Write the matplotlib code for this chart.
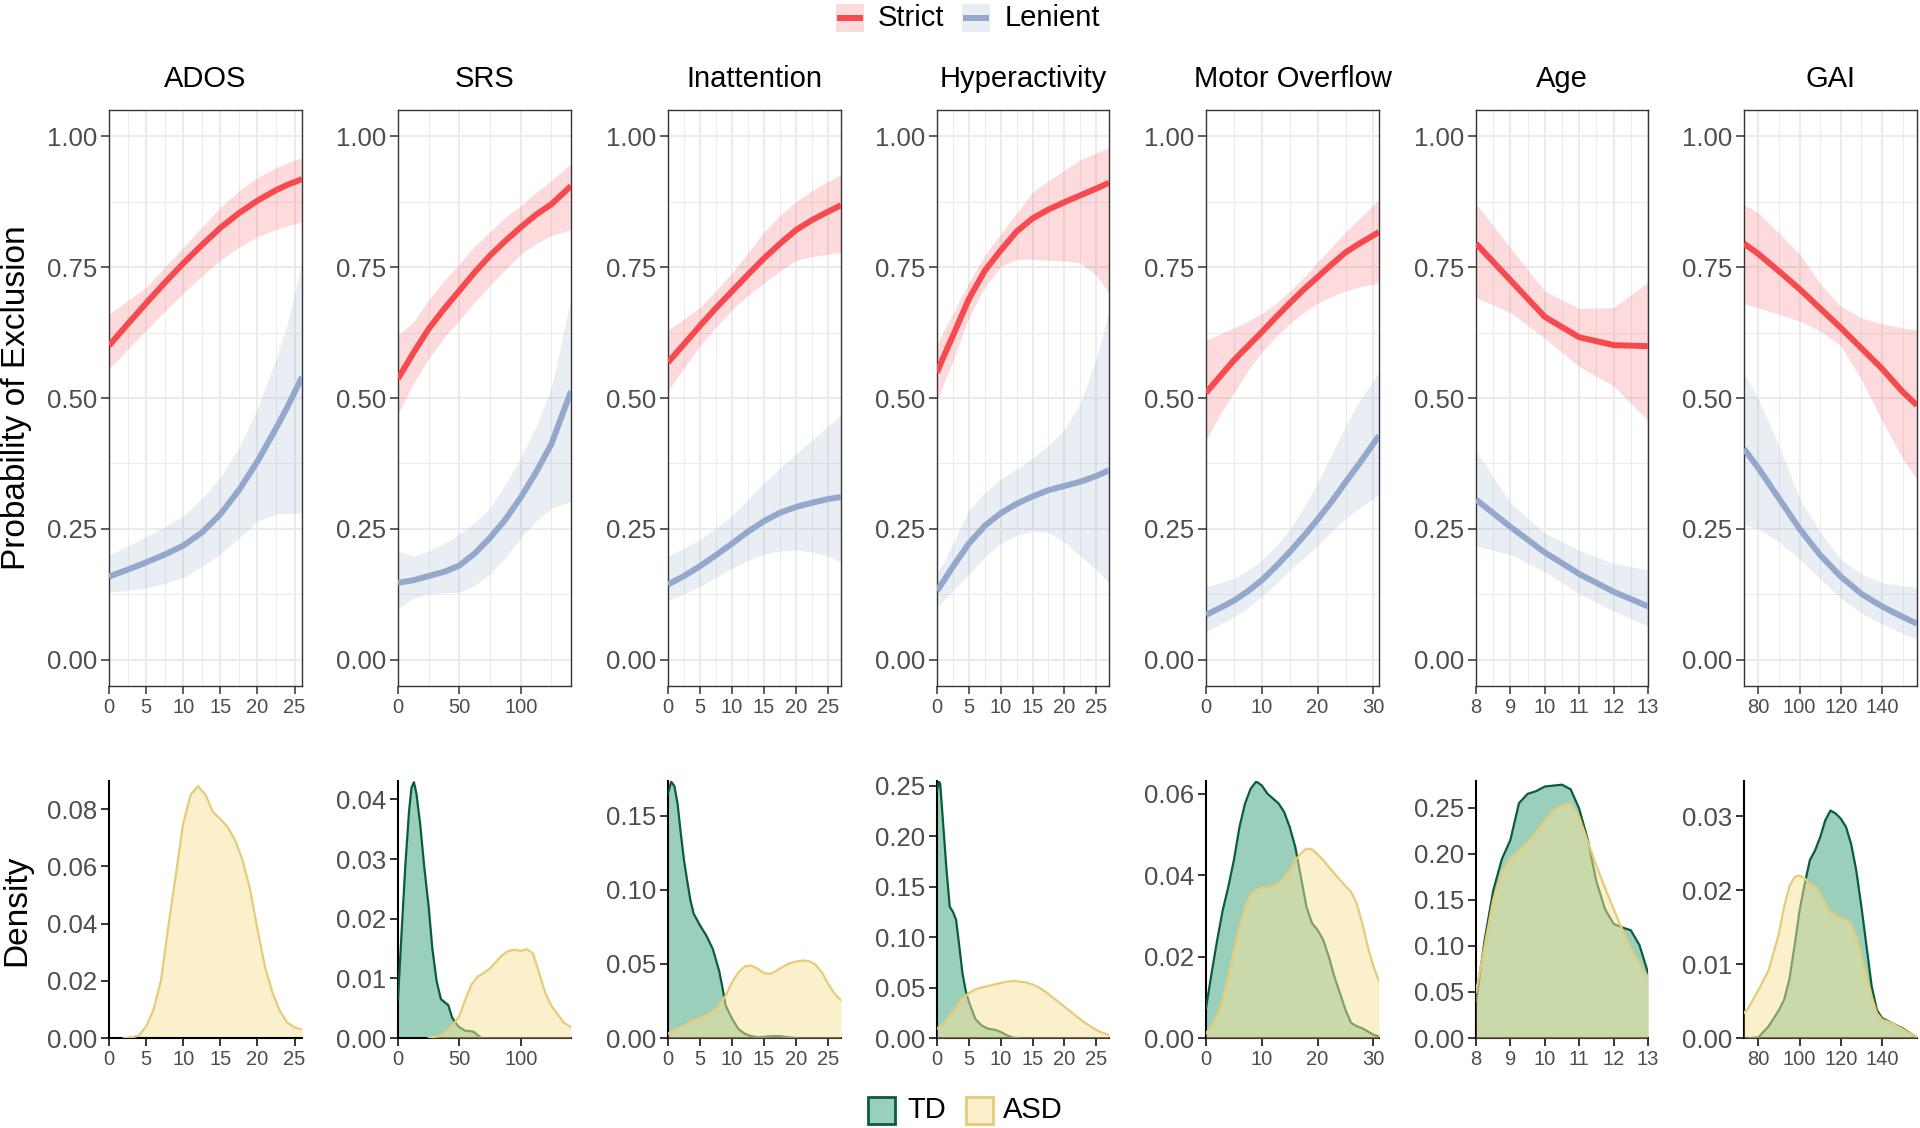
import matplotlib
matplotlib.use("Agg")
import matplotlib.pyplot as plt
from matplotlib.patches import Rectangle
from matplotlib.lines import Line2D

plt.rcParams['font.family'] = ['Liberation Sans', 'DejaVu Sans']

# ---------------- data ----------------
variables = ["ADOS", "SRS", "Inattention", "Hyperactivity", "Motor Overflow", "Age", "GAI"]
x_limits = [(0, 26), (0, 141), (0, 27), (0, 27), (0, 31), (8, 13), (73, 157)]
x_ticks = [[0, 5, 10, 15, 20, 25], [0, 50, 100], [0, 5, 10, 15, 20, 25], [0, 5, 10, 15, 20, 25],
           [0, 10, 20, 30], [8, 9, 10, 11, 12, 13], [80, 100, 120, 140]]
x_minor = [[2.5, 7.5, 12.5, 17.5, 22.5], [25, 75, 125], [2.5, 7.5, 12.5, 17.5, 22.5],
           [2.5, 7.5, 12.5, 17.5, 22.5], [5, 15, 25], [8.5, 9.5, 10.5, 11.5, 12.5],
           [90, 110, 130, 150]]
prob_ticks = [0.0, 0.25, 0.5, 0.75, 1.0]
prob_labels = ["0.00", "0.25", "0.50", "0.75", "1.00"]

# Predicted probability curves (x, strict fit/lo/hi, lenient fit/lo/hi)
ados_x = [0, 2.5, 5, 7.5, 10, 12.5, 15, 17.5, 20, 22.5, 24, 26]
ados_strict = [0.600, 0.641, 0.681, 0.720, 0.757, 0.792, 0.825, 0.853, 0.877, 0.897, 0.907, 0.918]
ados_strict_lo = [0.556, 0.593, 0.629, 0.665, 0.700, 0.733, 0.763, 0.788, 0.808, 0.822, 0.829, 0.836]
ados_strict_hi = [0.660, 0.686, 0.711, 0.750, 0.787, 0.826, 0.864, 0.896, 0.921, 0.940, 0.949, 0.959]
ados_lenient = [0.159, 0.172, 0.186, 0.201, 0.218, 0.243, 0.278, 0.324, 0.379, 0.442, 0.482, 0.540]
ados_lenient_lo = [0.129, 0.133, 0.137, 0.146, 0.157, 0.178, 0.202, 0.232, 0.265, 0.278, 0.280, 0.280]
ados_lenient_hi = [0.200, 0.217, 0.235, 0.254, 0.275, 0.308, 0.348, 0.405, 0.480, 0.575, 0.640, 0.760]

srs_x = [0, 12.5, 25, 37.5, 50, 62.5, 75, 87.5, 100, 112.5, 125, 141]
srs_strict = [0.537, 0.586, 0.632, 0.670, 0.705, 0.740, 0.772, 0.800, 0.826, 0.850, 0.870, 0.905]
srs_strict_lo = [0.470, 0.528, 0.575, 0.615, 0.648, 0.683, 0.715, 0.745, 0.775, 0.795, 0.810, 0.822]
srs_strict_hi = [0.620, 0.645, 0.688, 0.724, 0.756, 0.790, 0.818, 0.845, 0.867, 0.893, 0.915, 0.948]
srs_lenient = [0.147, 0.152, 0.160, 0.168, 0.180, 0.203, 0.233, 0.268, 0.310, 0.358, 0.412, 0.513]
srs_lenient_lo = [0.097, 0.118, 0.126, 0.128, 0.129, 0.142, 0.164, 0.195, 0.233, 0.265, 0.290, 0.303]
srs_lenient_hi = [0.208, 0.198, 0.208, 0.222, 0.240, 0.262, 0.290, 0.335, 0.386, 0.445, 0.520, 0.690]

inatt_x = [0, 2.5, 5, 7.5, 10, 12.5, 15, 17.5, 20, 22.5, 25, 27]
inatt_strict = [0.568, 0.603, 0.638, 0.672, 0.704, 0.736, 0.767, 0.795, 0.821, 0.840, 0.856, 0.868]
inatt_strict_lo = [0.514, 0.558, 0.600, 0.636, 0.669, 0.696, 0.720, 0.743, 0.763, 0.770, 0.775, 0.778]
inatt_strict_hi = [0.630, 0.651, 0.673, 0.705, 0.739, 0.778, 0.817, 0.849, 0.875, 0.896, 0.914, 0.926]
inatt_lenient = [0.144, 0.160, 0.179, 0.200, 0.222, 0.245, 0.265, 0.281, 0.292, 0.300, 0.307, 0.311]
inatt_lenient_lo = [0.113, 0.126, 0.140, 0.157, 0.175, 0.190, 0.202, 0.208, 0.210, 0.206, 0.198, 0.187]
inatt_lenient_hi = [0.198, 0.213, 0.230, 0.252, 0.276, 0.306, 0.339, 0.366, 0.393, 0.420, 0.447, 0.467]

hyper_x = [0, 1, 2.5, 5, 7.5, 10, 12.5, 15, 17.5, 20, 22.5, 25, 27]
hyper_strict = [0.549, 0.578, 0.619, 0.689, 0.743, 0.782, 0.818, 0.843, 0.860, 0.874, 0.887, 0.900, 0.911]
hyper_strict_lo = [0.494, 0.527, 0.570, 0.654, 0.712, 0.751, 0.765, 0.765, 0.763, 0.762, 0.758, 0.735, 0.700]
hyper_strict_hi = [0.603, 0.627, 0.662, 0.720, 0.773, 0.813, 0.853, 0.893, 0.915, 0.935, 0.955, 0.968, 0.978]
hyper_lenient = [0.132, 0.150, 0.178, 0.222, 0.256, 0.280, 0.298, 0.312, 0.324, 0.332, 0.340, 0.351, 0.362]
hyper_lenient_lo = [0.100, 0.113, 0.132, 0.163, 0.196, 0.222, 0.238, 0.246, 0.243, 0.225, 0.198, 0.172, 0.148]
hyper_lenient_hi = [0.167, 0.185, 0.222, 0.285, 0.320, 0.345, 0.365, 0.385, 0.410, 0.440, 0.490, 0.575, 0.668]

motor_x = [0, 2.5, 5, 7.5, 10, 12.5, 15, 17.5, 20, 22.5, 25, 27.5, 31]
motor_strict = [0.510, 0.541, 0.572, 0.599, 0.626, 0.654, 0.681, 0.707, 0.731, 0.755, 0.778, 0.795, 0.817]
motor_strict_lo = [0.420, 0.468, 0.510, 0.552, 0.588, 0.617, 0.642, 0.663, 0.681, 0.694, 0.704, 0.712, 0.720]
motor_strict_hi = [0.611, 0.622, 0.634, 0.647, 0.661, 0.680, 0.704, 0.730, 0.759, 0.788, 0.817, 0.843, 0.879]
motor_lenient = [0.086, 0.099, 0.113, 0.131, 0.152, 0.178, 0.206, 0.236, 0.268, 0.302, 0.339, 0.375, 0.428]
motor_lenient_lo = [0.054, 0.068, 0.082, 0.100, 0.121, 0.145, 0.171, 0.195, 0.218, 0.245, 0.270, 0.290, 0.315]
motor_lenient_hi = [0.140, 0.147, 0.156, 0.171, 0.190, 0.217, 0.249, 0.290, 0.339, 0.392, 0.447, 0.495, 0.549]

age_x = [8, 9, 10, 11, 12, 13]
age_strict = [0.795, 0.725, 0.655, 0.616, 0.601, 0.599]
age_strict_lo = [0.692, 0.663, 0.614, 0.560, 0.523, 0.457]
age_strict_hi = [0.871, 0.787, 0.704, 0.671, 0.673, 0.721]
age_lenient = [0.306, 0.254, 0.205, 0.164, 0.130, 0.102]
age_lenient_lo = [0.217, 0.201, 0.168, 0.126, 0.093, 0.064]
age_lenient_hi = [0.399, 0.300, 0.242, 0.209, 0.184, 0.172]

gai_x = [73, 80, 90, 100, 110, 120, 130, 140, 150, 157]
gai_strict = [0.795, 0.775, 0.742, 0.708, 0.671, 0.634, 0.595, 0.556, 0.512, 0.486]
gai_strict_lo = [0.680, 0.672, 0.660, 0.647, 0.628, 0.600, 0.535, 0.457, 0.385, 0.345]
gai_strict_hi = [0.870, 0.853, 0.815, 0.775, 0.718, 0.675, 0.653, 0.642, 0.634, 0.630]
gai_lenient = [0.403, 0.366, 0.308, 0.250, 0.200, 0.159, 0.126, 0.102, 0.082, 0.069]
gai_lenient_lo = [0.258, 0.250, 0.225, 0.192, 0.155, 0.118, 0.089, 0.069, 0.050, 0.040]
gai_lenient_hi = [0.547, 0.498, 0.409, 0.308, 0.244, 0.192, 0.164, 0.147, 0.141, 0.139]

# Density curves
ados_asd_x = [2, 3, 4, 5, 6, 7, 8, 9, 10, 11, 12, 13, 14, 15, 16, 17, 18, 19, 20, 21, 22, 23, 24, 25, 26]
ados_asd_y = [0, 0.0002, 0.0008, 0.004, 0.010, 0.020, 0.039, 0.057, 0.075, 0.085, 0.088, 0.085, 0.079,
              0.0765, 0.0737, 0.069, 0.062, 0.052, 0.038, 0.025, 0.016, 0.0095, 0.0054, 0.0037, 0.003]

srs_td_x = [0, 3, 6, 9, 11, 13, 15, 18, 21.5, 25, 28, 31.5, 35, 38, 41, 44, 47, 50, 55, 58, 62, 66, 68]
srs_td_y = [0.0065, 0.018, 0.029, 0.038, 0.042, 0.0429, 0.041, 0.036, 0.0285, 0.022, 0.015, 0.0095,
            0.0065, 0.006, 0.0055, 0.0035, 0.0025, 0.0018, 0.0012, 0.0012, 0.001, 0.0003, 0]
srs_asd_x = [25, 35, 45, 50, 55, 60, 65, 70, 75, 80, 85, 90, 95, 100, 105, 110, 115, 120, 125, 130, 135, 141]
srs_asd_y = [0, 0.0004, 0.0023, 0.0037, 0.0065, 0.009, 0.0103, 0.0109, 0.0117, 0.0128, 0.0139, 0.0146,
             0.0148, 0.0146, 0.0149, 0.0142, 0.0109, 0.0076, 0.0054, 0.004, 0.0026, 0.0018]

inatt_td_x = [0, 0.5, 1, 1.5, 2, 2.5, 3, 3.5, 4, 5, 6, 7, 8, 8.5, 9, 10, 11, 12, 13, 14, 15, 16, 17.5, 19, 20]
inatt_td_y = [0.165, 0.173, 0.170, 0.158, 0.138, 0.120, 0.106, 0.093, 0.084, 0.076, 0.069, 0.060, 0.045,
              0.034, 0.022, 0.013, 0.006, 0.0028, 0.0012, 0.0006, 0.0008, 0.0012, 0.0012, 0.0004, 0]
inatt_asd_x = list(range(0, 28))
inatt_asd_y = [0.003, 0.005, 0.0074, 0.0097, 0.012, 0.0135, 0.0153, 0.018, 0.022, 0.0287, 0.0377, 0.0444,
               0.0483, 0.049, 0.0467, 0.0438, 0.0433, 0.0456, 0.0483, 0.0505, 0.0516, 0.0523, 0.0519,
               0.0496, 0.0444, 0.0366, 0.0299, 0.0254]

hyper_td_x = [0, 0.3, 0.5, 1, 1.5, 2, 2.5, 3, 3.5, 4, 4.5, 5, 6, 7, 8, 9, 10, 11, 12, 13]
hyper_td_y = [0.245, 0.254, 0.252, 0.209, 0.166, 0.130, 0.125, 0.117, 0.091, 0.064, 0.047, 0.036,
              0.019, 0.0125, 0.0092, 0.0083, 0.006, 0.0026, 0.0003, 0]
hyper_asd_x = list(range(0, 28))
hyper_asd_y = [0.0092, 0.014, 0.0224, 0.0307, 0.039, 0.0446, 0.048, 0.050, 0.0515, 0.053, 0.0545,
               0.0558, 0.0564, 0.0558, 0.055, 0.053, 0.050, 0.046, 0.041, 0.036, 0.031, 0.026, 0.021,
               0.016, 0.012, 0.008, 0.005, 0.003]

motor_td_x = list(range(0, 32))
motor_td_y = [0.0073, 0.0159, 0.024, 0.0314, 0.0371, 0.0437, 0.0518, 0.0576, 0.0612, 0.063, 0.062,
              0.060, 0.0588, 0.0576, 0.0555, 0.0518, 0.0469, 0.0396, 0.0322, 0.0282, 0.0265, 0.0241,
              0.020, 0.0151, 0.011, 0.0069, 0.0037, 0.0029, 0.0024, 0.0016, 0.0008, 0.0004]
motor_asd_x = list(range(0, 32))
motor_asd_y = [0.0012, 0.0029, 0.0053, 0.0094, 0.0151, 0.0216, 0.0273, 0.0322, 0.0351, 0.0363, 0.037,
               0.037, 0.0373, 0.038, 0.0392, 0.0412, 0.0437, 0.0453, 0.0465, 0.0463, 0.0451, 0.0437,
               0.042, 0.0404, 0.0388, 0.0373, 0.0359, 0.033, 0.0282, 0.0224, 0.0176, 0.0139]

age_td_x = [8, 8.25, 8.5, 8.75, 9, 9.25, 9.5, 9.75, 10, 10.25, 10.5, 10.75, 11, 11.25, 11.5, 11.75,
            12, 12.25, 12.5, 12.75, 13]
age_td_y = [0.04, 0.106, 0.16, 0.194, 0.215, 0.255, 0.265, 0.268, 0.273, 0.274, 0.275, 0.27, 0.249,
            0.215, 0.170, 0.140, 0.124, 0.120, 0.117, 0.101, 0.071]
age_asd_x = [8, 8.25, 8.5, 8.75, 9, 9.25, 9.5, 9.75, 10, 10.25, 10.5, 10.75, 11, 11.25, 11.5, 11.75,
             12, 12.25, 12.5, 12.75, 13]
age_asd_y = [0.05, 0.10, 0.15, 0.18, 0.195, 0.203, 0.212, 0.223, 0.236, 0.247, 0.253, 0.254, 0.24,
             0.213, 0.187, 0.163, 0.14, 0.118, 0.097, 0.081, 0.064]

gai_td_x = [76, 80, 85, 90, 92.5, 95, 97.5, 100, 102.5, 105, 107.5, 110, 112.5, 115, 117.5, 120,
            122.5, 125, 127.5, 130, 132.5, 135, 137.5, 140, 145, 150, 155, 157]
gai_td_y = [0, 0.0001, 0.0016, 0.0038, 0.0052, 0.0079, 0.0124, 0.0173, 0.0209, 0.0241, 0.0254,
            0.0272, 0.0295, 0.0308, 0.0304, 0.0297, 0.0286, 0.0263, 0.0227, 0.0178, 0.0124, 0.007,
            0.0038, 0.0027, 0.002, 0.0013, 0.0004, 0.0]
gai_asd_x = [73, 75, 80, 85, 90, 92.5, 95, 97.5, 100, 102.5, 105, 107.5, 110, 112.5, 115, 117.5,
             120, 122.5, 125, 127.5, 130, 132.5, 135, 137.5, 140, 145, 150, 155, 157]
gai_asd_y = [0.0034, 0.004, 0.0065, 0.0092, 0.0142, 0.0178, 0.0205, 0.0218, 0.022, 0.0216, 0.0209,
             0.0205, 0.0196, 0.0182, 0.0171, 0.0166, 0.0162, 0.016, 0.0153, 0.0137, 0.011, 0.0083,
             0.0056, 0.0034, 0.0025, 0.002, 0.0012, 0.0004, 0.0002]

density_ylim = [0.0898, 0.0431, 0.1735, 0.2545, 0.0631, 0.279, 0.0348]
density_ticks = [[0, 0.02, 0.04, 0.06, 0.08], [0, 0.01, 0.02, 0.03, 0.04], [0, 0.05, 0.10, 0.15],
                 [0, 0.05, 0.10, 0.15, 0.20, 0.25], [0, 0.02, 0.04, 0.06],
                 [0, 0.05, 0.10, 0.15, 0.20, 0.25], [0, 0.01, 0.02, 0.03]]

curves = [
    (ados_x, ados_strict, ados_strict_lo, ados_strict_hi, ados_lenient, ados_lenient_lo, ados_lenient_hi),
    (srs_x, srs_strict, srs_strict_lo, srs_strict_hi, srs_lenient, srs_lenient_lo, srs_lenient_hi),
    (inatt_x, inatt_strict, inatt_strict_lo, inatt_strict_hi, inatt_lenient, inatt_lenient_lo, inatt_lenient_hi),
    (hyper_x, hyper_strict, hyper_strict_lo, hyper_strict_hi, hyper_lenient, hyper_lenient_lo, hyper_lenient_hi),
    (motor_x, motor_strict, motor_strict_lo, motor_strict_hi, motor_lenient, motor_lenient_lo, motor_lenient_hi),
    (age_x, age_strict, age_strict_lo, age_strict_hi, age_lenient, age_lenient_lo, age_lenient_hi),
    (gai_x, gai_strict, gai_strict_lo, gai_strict_hi, gai_lenient, gai_lenient_lo, gai_lenient_hi),
]
densities = [
    [None, (ados_asd_x, ados_asd_y)],
    [(srs_td_x, srs_td_y), (srs_asd_x, srs_asd_y)],
    [(inatt_td_x, inatt_td_y), (inatt_asd_x, inatt_asd_y)],
    [(hyper_td_x, hyper_td_y), (hyper_asd_x, hyper_asd_y)],
    [(motor_td_x, motor_td_y), (motor_asd_x, motor_asd_y)],
    [(age_td_x, age_td_y), (age_asd_x, age_asd_y)],
    [(gai_td_x, gai_td_y), (gai_asd_x, gai_asd_y)],
]

# ---------------- style ----------------
STRICT = '#F64A4F'
LENIENT = '#93A8CB'
TD_FILL, TD_EDGE = '#37A179', '#0B5C3A'
ASD_FILL, ASD_EDGE = '#F9E39B', '#E6CB78'
GRID = '#EBEBEB'
TXT = '#4D4D4D'

W, H = 1920, 1128
fig = plt.figure(figsize=(W / 100, H / 100), dpi=100)

col_left = [109, 398, 668, 937, 1206, 1476, 1744]
col_width = [193, 173, 173, 172, 173, 172, 173]
top_t, top_b = 110, 686
bot_t, bot_b = 781, 1038


def add_ax(l, t, w, h):
    return fig.add_axes([l / W, 1 - (t + h) / H, w / W, h / H])


def fx(x):
    return x / W


def fy(y):
    return 1 - y / H


for i, name in enumerate(variables):
    # ---- top: predicted probability ----
    ax = add_ax(col_left[i], top_t, col_width[i], top_b - top_t)
    ax.set_xlim(*x_limits[i])
    ax.set_ylim(-0.05, 1.05)
    ax.set_xticks(x_ticks[i])
    ax.set_xticks(x_minor[i], minor=True)
    ax.set_yticks(prob_ticks)
    ax.set_yticklabels(prob_labels)
    ax.set_yticks([0.125, 0.375, 0.625, 0.875], minor=True)
    ax.grid(which='major', color=GRID, lw=1.4)
    ax.grid(which='minor', color=GRID, lw=0.7)
    ax.set_axisbelow(True)
    for s in ax.spines.values():
        s.set_color('#333333')
        s.set_linewidth(1.0)
    ax.tick_params(which='major', length=5.5, width=1.1, color='#333333', pad=3, labelcolor=TXT)
    ax.tick_params(axis='y', labelsize=18.5)
    ax.tick_params(axis='x', labelsize=14.5, pad=3)
    ax.tick_params(which='minor', length=0)

    x, s_fit, s_lo, s_hi, l_fit, l_lo, l_hi = curves[i]
    ax.fill_between(x, s_lo, s_hi, color=STRICT, alpha=0.2, lw=0, zorder=2)
    ax.plot(x, s_fit, color=STRICT, lw=4.3, zorder=3, solid_capstyle='butt')
    ax.fill_between(x, l_lo, l_hi, color=LENIENT, alpha=0.2, lw=0, zorder=2)
    ax.plot(x, l_fit, color=LENIENT, lw=4.3, zorder=3, solid_capstyle='butt')

    fig.text(fx(col_left[i] + col_width[i] / 2), fy(87), name, ha='center', va='baseline',
             fontsize=21, color='black')

    # ---- bottom: density ----
    bx = add_ax(col_left[i], bot_t, col_width[i], bot_b - bot_t)
    bx.set_xlim(*x_limits[i])
    bx.set_ylim(0, density_ylim[i])
    bx.set_xticks(x_ticks[i])
    bx.set_yticks(density_ticks[i])
    bx.set_yticklabels(['%.2f' % v for v in density_ticks[i]])
    bx.spines['top'].set_visible(False)
    bx.spines['right'].set_visible(False)
    for sp in ('left', 'bottom'):
        bx.spines[sp].set_color('black')
        bx.spines[sp].set_linewidth(1.5)
    bx.tick_params(length=5.5, width=1.1, color='black', pad=3, labelcolor=TXT)
    bx.tick_params(axis='y', labelsize=18.5)
    bx.tick_params(axis='x', labelsize=14.5)

    z = 2
    for grp, fill, edge in zip(densities[i], (TD_FILL, ASD_FILL), (TD_EDGE, ASD_EDGE)):
        if grp is None:
            continue
        dx, dy = grp
        bx.fill_between(dx, 0, dy, color=fill, alpha=0.5, lw=0, zorder=z)
        bx.plot(dx, dy, color=edge, lw=1.6, zorder=z + 1)
        z += 2

# axis titles
fig.text(fx(17), fy(398), 'Probability of Exclusion', rotation=90, ha='center', va='center',
         fontsize=24, color='black')
fig.text(fx(17), fy(910), 'Density', rotation=90, ha='center', va='center', fontsize=24, color='black')

# top legend
for kx, tx, col, lab in [(836, 878, STRICT, 'Strict'), (962, 1005, LENIENT, 'Lenient')]:
    k = 28
    ky = 4
    fig.add_artist(Rectangle((fx(kx), fy(ky + k)), k / W, k / H, transform=fig.transFigure,
                             facecolor=col, alpha=0.2, lw=0))
    fig.add_artist(Line2D([fx(kx + 1), fx(kx + k - 1)], [fy(ky + k / 2)] * 2, transform=fig.transFigure,
                          color=col, lw=4.3, solid_capstyle='butt'))
    fig.text(fx(tx), fy(ky + k / 2), lab, ha='left', va='center', fontsize=21, color='black')

# bottom legend
for kx, tx, fill, edge, lab in [(868, 907, TD_FILL, TD_EDGE, 'TD'), (966, 1003, ASD_FILL, ASD_EDGE, 'ASD')]:
    k = 27
    ky = 1097
    fig.add_artist(Rectangle((fx(kx), fy(ky + k)), k / W, k / H, transform=fig.transFigure,
                             facecolor=fill, alpha=0.5, lw=0))
    fig.add_artist(Rectangle((fx(kx), fy(ky + k)), k / W, k / H, transform=fig.transFigure,
                             facecolor='none', edgecolor=edge, lw=2.0))
    fig.text(fx(tx), fy(ky + k / 2), lab, ha='left', va='center', fontsize=21, color='black')

fig.savefig('out.png', dpi=100)
